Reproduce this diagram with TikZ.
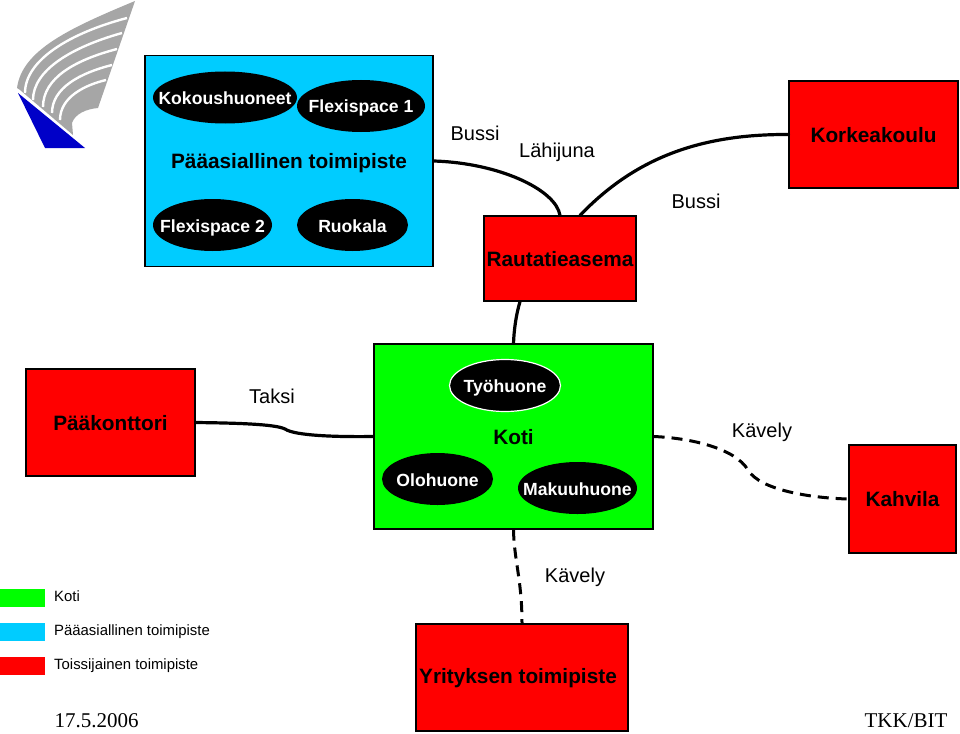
\documentclass[tikz,border=0pt]{standalone}
\usepackage{fontspec}
\setmainfont{Liberation Sans}
\newfontfamily\datefont{Liberation Serif}
\usetikzlibrary{shapes.geometric}
\definecolor{paacyan}{HTML}{00CCFF}
\definecolor{kotigreen}{HTML}{00FF00}
\definecolor{toisred}{HTML}{FF0000}
\definecolor{logogray}{HTML}{A6A6A6}
\definecolor{logoblue}{HTML}{0000C8}
\newcommand{\roomtext}[1]{\makebox[0pt]{#1}}
\tikzset{
	place/.style={draw=black, line width=1.2pt, minimum width=#1, inner sep=0pt, text height=16pt, text depth=1pt, font=\fontsize{20.8}{24}\selectfont\bfseries},
	room/.style={ellipse, fill=black, text=white, inner sep=0pt, minimum height=52pt, minimum width=#1, text height=16pt, text depth=2pt, font=\fontsize{17.6}{21}\selectfont\bfseries},
	lbl/.style={inner sep=0pt, text height=15pt, text depth=1pt, font=\fontsize{20}{24}\selectfont},
	leg/.style={inner sep=0pt, anchor=west, text height=11pt, text depth=0pt, font=\fontsize{14.9}{18}\selectfont},
	datum/.style={inner sep=0pt, text height=14pt, text depth=0pt, font=\datefont\fontsize{21}{24}\selectfont},
	swatch/.style={fill=#1, inner sep=0pt, minimum width=45pt, minimum height=18pt},
	link/.style={line width=3.2pt, line cap=round},
	walk/.style={line width=3pt, dash pattern=on 11pt off 7pt}
}
\begin{document}
\begin{tikzpicture}[x=1pt, y=-1pt]
	\useasboundingbox (0,0) rectangle (960,733);
	% logo
	\fill[logogray] (135,1) .. controls (70,28) and (22,50) .. (17,88) -- (20,90) -- (73,135) -- (72,123) .. controls (75,114) and (86,109) .. (98,108) -- cycle;
	\foreach \ax/\ay/\bx/\by/\cx/\cy/\dx/\dy in {127/18/70/33/25/60/25/93, 122/33/72/47/33/70/33/100, 117/49/75/60/43/78/43/107, 112/65/80/73/52/88/52/113, 106/80/85/85/60/97/60/120}
		\draw[white, line width=2.4pt] (\ax,\ay) .. controls (\bx,\by) and (\cx,\cy) .. (\dx,\dy);
	\fill[logoblue] (18,93) -- (45,148) -- (85,148) -- cycle;
	% main office
	\node[place=288pt, minimum height=211pt, fill=paacyan] (paa) at (289,161) {Pääasiallinen toimipiste};
	\node[room=144pt] (kokous) at (225,97.5) {\roomtext{Kokoushuoneet}};
	\node[room=128pt] (flex1) at (361,106) {\roomtext{Flexispace 1}};
	\node[room=119pt] (flex2) at (212.5,225) {\roomtext{Flexispace 2}};
	\node[room=111pt] (ruokala) at (352.5,225) {\roomtext{Ruokala}};
	% secondary offices
	\node[place=152pt, minimum height=85pt, fill=toisred] (rautatie) at (560,258.5) {Rautatieasema};
	\node[place=169pt, minimum height=107pt, fill=toisred] (korkea) at (873.5,134.5) {Korkeakoulu};
	\node[place=169pt, minimum height=107pt, fill=toisred] (konttori) at (110.5,422.5) {Pääkonttori};
	\node[place=107pt, minimum height=108pt, fill=toisred] (kahvila) at (902.5,499) {Kahvila};
	\node[place=212pt, minimum height=107pt, fill=toisred, text depth=5pt] (yritys) at (522,677.5) {Yrityksen toimipiste\hspace*{8pt}};
	% home
	\node[place=279pt, minimum height=185pt, fill=kotigreen] (koti) at (513.5,436.5) {Koti};
	\node[room=111pt, draw=white, line width=1.2pt] (tyo) at (505,385.5) {\roomtext{Työhuone}};
	\node[room=111pt] (olo) at (437.5,479) {\roomtext{Olohuone}};
	\node[room=119pt] (makuu) at (577.5,488) {\roomtext{Makuuhuone}};
	% connectors
	\draw[link] (paa.east) .. controls (500,163) and (556,190) .. (rautatie.north);
	\draw[link] ([xshift=20pt]rautatie.north) .. controls (635,158) and (700,134) .. (korkea.west);
	\draw[link] ([xshift=-40pt]rautatie.south) .. controls (516,315) and (514,330) .. (koti.north);
	\draw[link] (konttori.east) .. controls (235,423) and (275,424) .. (285,429) .. controls (295,436) and (340,437) .. (koti.west);
	\draw[walk] (koti.east) .. controls (690,438) and (735,448) .. (748,470) .. controls (760,490) and (810,498) .. (kahvila.west);
	\draw[walk] (koti.south) .. controls (514,560) and (522,580) .. (yritys.north);
	% labels
	\node[lbl] (bussi1) at (475,133) {Bussi};
	\node[lbl] (lahijuna) at (557,150) {Lähijuna};
	\node[lbl] (bussi2) at (696,201) {Bussi};
	\node[lbl] (taksi) at (272,396) {Taksi};
	\node[lbl] (kavely1) at (762,430) {Kävely};
	\node[lbl] (kavely2) at (575,575) {Kävely};
	% legend
	\node[swatch=kotigreen] (s1) at (22.5,598) {};
	\node[swatch=paacyan] (s2) at (22.5,632) {};
	\node[swatch=toisred] (s3) at (22.5,666) {};
	\node[leg] (l1) at (54,595.5) {Koti};
	\node[leg] (l2) at (54,629.5) {Pääasiallinen toimipiste};
	\node[leg] (l3) at (54,663.5) {Toissijainen toimipiste};
	% footer
	\node[datum] (pvm) at (96.5,720) {17.5.2006};
	\node[datum] (tkk) at (906,720) {TKK/BIT};
\end{tikzpicture}
\end{document}
